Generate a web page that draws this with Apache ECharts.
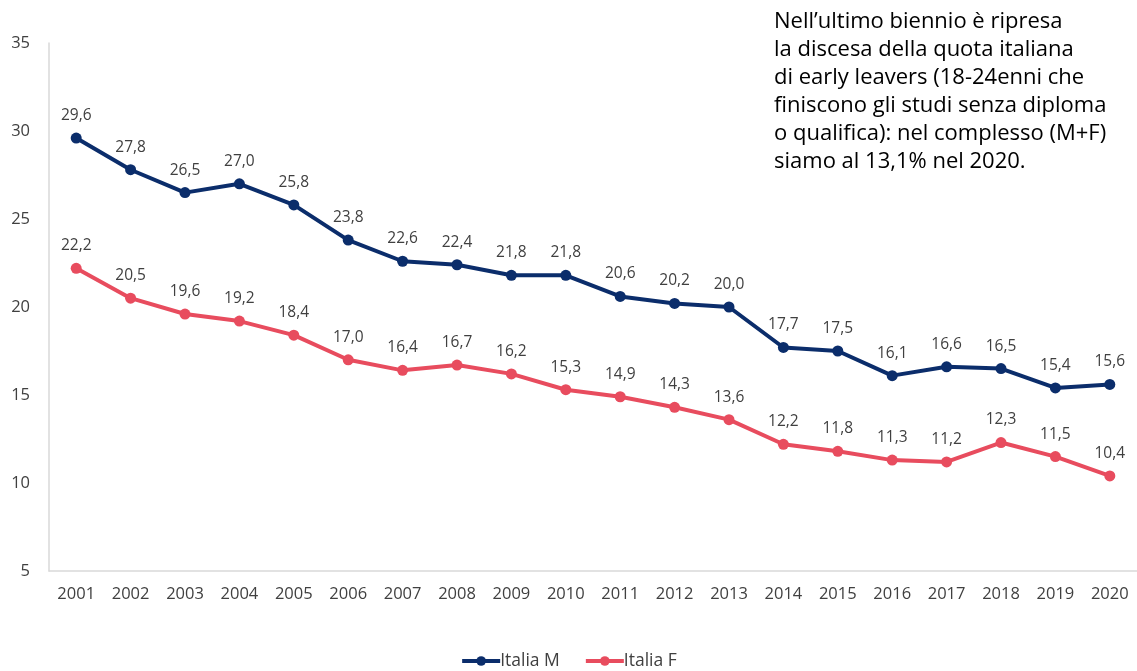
<!DOCTYPE html>
<html>
<head>
<meta charset="utf-8">
<style>
  html, body { margin: 0; padding: 0; background: #fff; }
  #chart { width: 1137px; height: 671px; }
</style>
<script src="https://cdn.jsdelivr.net/npm/echarts@6/dist/echarts.min.js"></script>
</head>
<body>
<div id="chart"></div>
<script>
// Quota di early leavers (18-24enni), Italia, per sesso
const years = ['2001','2002','2003','2004','2005','2006','2007','2008','2009','2010',
               '2011','2012','2013','2014','2015','2016','2017','2018','2019','2020'];
const italiaM = [29.6, 27.8, 26.5, 27.0, 25.8, 23.8, 22.6, 22.4, 21.8, 21.8,
                 20.6, 20.2, 20.0, 17.7, 17.5, 16.1, 16.6, 16.5, 15.4, 15.6];
const italiaF = [22.2, 20.5, 19.6, 19.2, 18.4, 17.0, 16.4, 16.7, 16.2, 15.3,
                 14.9, 14.3, 13.6, 12.2, 11.8, 11.3, 11.2, 12.3, 11.5, 10.4];
const noteLines = [
  'Nell\u2019ultimo biennio è ripresa',
  'la discesa della quota italiana',
  'di early leavers (18-24enni che',
  'finiscono gli studi senza diploma',
  'o qualifica): nel complesso (M+F)',
  'siamo al 13,1% nel 2020.'
];

const FONT = '"Open Sans", "Noto Sans", sans-serif';
const fmt = p => p.value.toFixed(1).replace('.', ',');

const chart = echarts.init(document.getElementById('chart'));

function makeSeries(name, data, color) {
  return {
    name: name,
    type: 'line',
    data: data,
    symbol: 'circle',
    symbolSize: 11,
    lineStyle: { color: color, width: 4 },
    itemStyle: { color: color },
    label: {
      show: true,
      position: 'top',
      distance: 9,
      formatter: fmt,
      color: '#404040',
      fontSize: 15.5,
      fontFamily: FONT
    },
    animation: false
  };
}

chart.setOption({
  animation: false,
  grid: { left: 49, right: -4, top: 43, bottom: 100 },
  xAxis: {
    type: 'category',
    data: years,
    boundaryGap: true,
    axisLine: { lineStyle: { color: '#d9d9d9', width: 1.5 } },
    axisTick: { show: false },
    axisLabel: { color: '#404040', fontSize: 16.5, fontFamily: FONT, margin: 15 }
  },
  yAxis: {
    type: 'value',
    min: 5,
    max: 35,
    interval: 5,
    axisLine: { show: true, lineStyle: { color: '#d9d9d9', width: 1.5 } },
    axisTick: { show: false },
    splitLine: { show: false },
    axisLabel: { color: '#404040', fontSize: 16.5, fontFamily: FONT, margin: 19 }
  },
  legend: {
    bottom: -4,
    left: 'center',
    itemWidth: 38,
    itemHeight: 12,
    itemGap: 24,
    lineStyle: { width: 4 },
    textStyle: { color: '#404040', fontSize: 17.5, fontFamily: FONT, padding: [0, 0, 0, -5] },
    data: ['Italia M', 'Italia F']
  },
  graphic: noteLines.map((t, i) => ({
    type: 'text',
    left: 774,
    top: 11 + i * 28,
    style: { text: t, fill: '#000', fontSize: 22, fontFamily: FONT }
  })),
  series: [
    makeSeries('Italia M', italiaM, '#0b2d6b'),
    makeSeries('Italia F', italiaF, '#e84c5e')
  ]
});
</script>
</body>
</html>
